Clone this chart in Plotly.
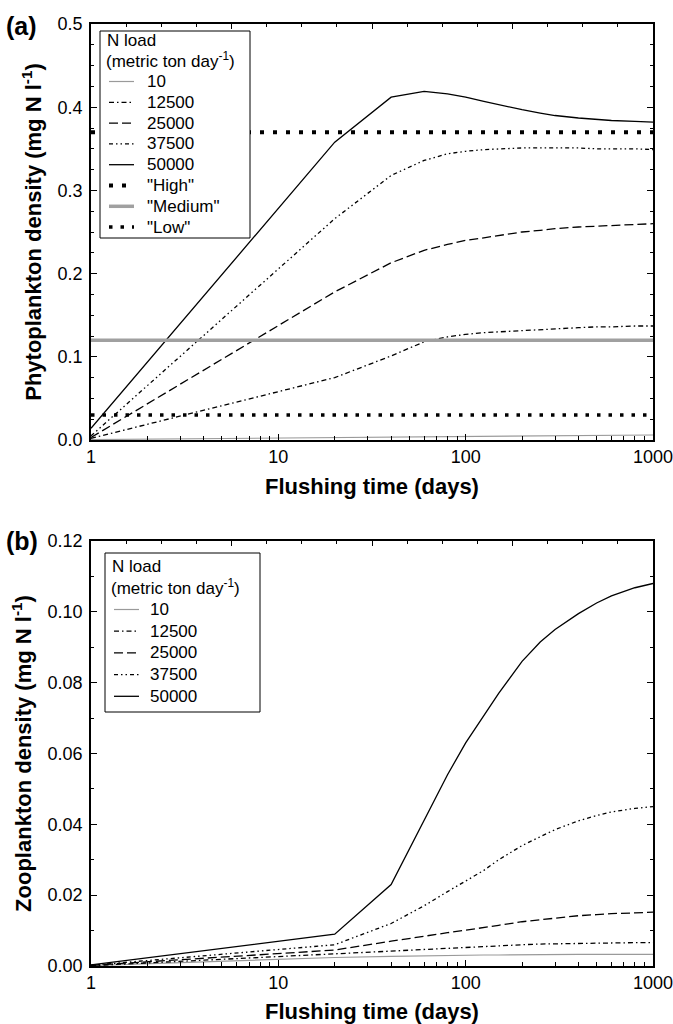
import plotly.graph_objects as go

# Flushing times (days) at which the model output is plotted
flush_days = [1, 20, 40, 60, 80, 100, 125, 150, 200, 250, 300, 400, 500, 600, 800, 1000]

# N load scenarios (metric ton per day)
n_loads = ["10", "12500", "25000", "37500", "50000"]

# Phytoplankton density (mg N l-1) for each N load
phyto_10 = [0.0005, 0.0030, 0.0038, 0.0042, 0.0045, 0.0047, 0.0049, 0.0050,
            0.0052, 0.0054, 0.0055, 0.0057, 0.0058, 0.0059, 0.0060, 0.0060]
phyto_12500 = [0.002, 0.075, 0.101, 0.118, 0.124, 0.127, 0.129, 0.130,
               0.132, 0.133, 0.134, 0.135, 0.136, 0.136, 0.137, 0.137]
phyto_25000 = [0.003, 0.178, 0.213, 0.228, 0.235, 0.240, 0.243, 0.246,
               0.250, 0.252, 0.254, 0.256, 0.257, 0.258, 0.259, 0.260]
phyto_37500 = [0.005, 0.266, 0.318, 0.336, 0.344, 0.347, 0.349, 0.350,
               0.351, 0.351, 0.351, 0.351, 0.350, 0.350, 0.350, 0.349]
phyto_50000 = [0.014, 0.358, 0.412, 0.419, 0.416, 0.412, 0.407, 0.403,
               0.397, 0.393, 0.390, 0.387, 0.385, 0.384, 0.383, 0.382]

# Zooplankton density (mg N l-1) for each N load
zoo_10 = [0.0001, 0.0024, 0.0027, 0.0029, 0.0030, 0.0030, 0.0031, 0.0031,
          0.0032, 0.0032, 0.0032, 0.0033, 0.0033, 0.0033, 0.0033, 0.0033]
zoo_12500 = [0.0001, 0.0035, 0.0043, 0.0048, 0.0051, 0.0053, 0.0055, 0.0057,
             0.0060, 0.0062, 0.0063, 0.0064, 0.0065, 0.0065, 0.0066, 0.0066]
zoo_25000 = [0.0002, 0.0045, 0.0070, 0.0085, 0.0094, 0.0101, 0.0108, 0.0115,
             0.0125, 0.0131, 0.0136, 0.0142, 0.0145, 0.0148, 0.0150, 0.0152]
zoo_37500 = [0.0002, 0.0060, 0.0120, 0.0170, 0.0210, 0.0240, 0.0270, 0.0300,
             0.0340, 0.0365, 0.0385, 0.0410, 0.0425, 0.0435, 0.0445, 0.0450]
zoo_50000 = [0.0003, 0.0090, 0.0230, 0.0410, 0.0540, 0.0630, 0.0705, 0.0770,
             0.0860, 0.0915, 0.0950, 0.0995, 0.1025, 0.1045, 0.1068, 0.1080]

# Phytoplankton reference levels
level_names = ['"High"', '"Medium"', '"Low"']
level_values = [0.37, 0.12, 0.03]
level_x = [1, 1000]

phyto_series = [phyto_10, phyto_12500, phyto_25000, phyto_37500, phyto_50000]
zoo_series = [zoo_10, zoo_12500, zoo_25000, zoo_37500, zoo_50000]

FONT = "Liberation Sans, Arial, sans-serif"

# line style per N load: (color, width, dash)
load_styles = [
    ("#9a9a9a", 1.2, "solid"),
    ("black", 1.3, "5px,3px,1.5px,3px"),
    ("black", 1.3, "9px,4px"),
    ("black", 1.3, "4px,3px,1.5px,3px,1.5px,3px"),
    ("black", 1.3, "solid"),
]
level_styles = [
    ("black", 4.0, "4px,9px"),
    ("#a0a0a0", 3.5, "solid"),
    ("black", 3.5, "3.5px,8px"),
]

# plot area in pixels (left, right, top, bottom of the whole stack)
L, R, T, B = 91, 653, 24, 966


def px_x(px):
    return (px - L) / (R - L)


def px_y(py):
    return (B - py) / (B - T)


fig = go.Figure()

for name, ys, (col, w, dash) in zip(n_loads, phyto_series, load_styles):
    fig.add_trace(go.Scatter(x=flush_days, y=ys, mode="lines", name=name,
                             line=dict(color=col, width=w, dash=dash),
                             xaxis="x", yaxis="y", showlegend=False))
for name, val, (col, w, dash) in zip(level_names, level_values, level_styles):
    fig.add_trace(go.Scatter(x=level_x, y=[val, val], mode="lines", name=name,
                             line=dict(color=col, width=w, dash=dash),
                             xaxis="x", yaxis="y", showlegend=False))
for name, ys, (col, w, dash) in zip(n_loads, zoo_series, load_styles):
    fig.add_trace(go.Scatter(x=flush_days, y=ys, mode="lines", name=name,
                             line=dict(color=col, width=w, dash=dash),
                             xaxis="x2", yaxis="y2", showlegend=False))

# empty carriers so the top tick axes get drawn
for xa, ya in (("x3", "y"), ("x4", "y2")):
    fig.add_trace(go.Scatter(x=[0, 16], y=[None, None], mode="lines",
                             line=dict(width=0), hoverinfo="skip",
                             showlegend=False, xaxis=xa, yaxis=ya))

tick_font = dict(family=FONT, size=18, color="black")
title_font = dict(family=FONT, size=22, color="black", weight="bold")

minor_log = [m * d for d in (1, 10, 100) for m in range(2, 10)]

log_axis = dict(
    type="log", range=[0, 3], automargin=False,
    tickvals=[1, 10, 100, 1000], ticktext=["1", "10", "100", "1000"],
    ticks="inside", ticklen=6, tickwidth=1.2, tickcolor="black",
    minor=dict(tickvals=minor_log, ticks="inside", ticklen=4, tickwidth=1, tickcolor="black"),
    showline=True, linecolor="black", linewidth=1.5,
    showgrid=False, zeroline=False, ticklabeloverflow="allow",
    tickfont=tick_font, title_font=title_font, title_standoff=12,
)

top_axis = dict(
    range=[0, 16], tickmode="linear", tick0=0, dtick=4, automargin=False,
    ticks="inside", ticklen=5, tickwidth=1.2, tickcolor="black",
    minor=dict(dtick=1, ticks="inside", ticklen=3, tickwidth=1, tickcolor="black"),
    showticklabels=False, showline=True, linecolor="black", linewidth=1.5,
    showgrid=False, zeroline=False, side="top",
)

lin_y = dict(
    ticks="inside", ticklen=6, tickwidth=1.2, tickcolor="black", automargin=False,
    showline=True, linecolor="black", linewidth=1.5, mirror="ticks",
    showgrid=False, zeroline=False,
    tickfont=tick_font, title_font=title_font, title_standoff=10,
    ticklabelstandoff=3,
)

fig.update_layout(
    width=673, height=1024,
    margin=dict(l=L, r=673 - R, t=T, b=1024 - B),
    paper_bgcolor="white", plot_bgcolor="white",
    font=dict(family=FONT, color="black"),
    showlegend=False,
    xaxis=dict(log_axis, domain=[0, 1], anchor="y",
               title_text="Flushing time (days)"),
    xaxis2=dict(log_axis, domain=[0, 1], anchor="y2",
                title_text="Flushing time (days)"),
    xaxis3=dict(top_axis, overlaying="x", anchor="y"),
    xaxis4=dict(top_axis, overlaying="x2", anchor="y2"),
    yaxis=dict(lin_y, domain=[px_y(440), 1.0], anchor="x", range=[0, 0.5],
               tickvals=[0, 0.1, 0.2, 0.3, 0.4, 0.5], tickformat=".1f",
               minor=dict(dtick=0.025, ticks="inside", ticklen=3, tickwidth=1, tickcolor="black"),
               title_text="Phytoplankton density (mg N l<sup>-1</sup>)"),
    yaxis2=dict(lin_y, domain=[0, px_y(541)], anchor="x2", range=[0, 0.12],
                tickvals=[0, 0.02, 0.04, 0.06, 0.08, 0.10, 0.12], tickformat=".2f",
                minor=dict(dtick=0.01, ticks="inside", ticklen=3, tickwidth=1, tickcolor="black"),
                title_text="Zooplankton density (mg N l<sup>-1</sup>)"),
)

# legend boxes drawn in the upper-left corner of each panel
LEG_FONT = dict(family=FONT, size=17, color="black")


def add_key(box, title_rows, text_x, sample_x, row_ys, names, styles):
    x0, x1, y0, y1 = box
    fig.add_shape(type="rect", xref="paper", yref="paper",
                  x0=px_x(x0), x1=px_x(x1), y0=px_y(y0), y1=px_y(y1),
                  line=dict(color="black", width=1), fillcolor="white", layer="above")
    for txt, (tx, ty) in title_rows:
        fig.add_annotation(text=txt, xref="paper", yref="paper",
                           x=px_x(tx), y=px_y(ty), xanchor="left", yanchor="middle",
                           showarrow=False, font=LEG_FONT, borderpad=0)
    for name, (col, w, dash), ry in zip(names, styles, row_ys):
        fig.add_shape(type="line", xref="paper", yref="paper",
                      x0=px_x(sample_x[0]), x1=px_x(sample_x[1]), y0=px_y(ry), y1=px_y(ry),
                      line=dict(color=col, width=w, dash=dash), layer="above")
        fig.add_annotation(text=name, xref="paper", yref="paper",
                           x=px_x(text_x), y=px_y(ry), xanchor="left", yanchor="middle",
                           showarrow=False, font=LEG_FONT, borderpad=0)


key_title = ["N load", "(metric ton day<sup>-1</sup>)"]

add_key(box=(100, 250, 31, 238),
        title_rows=list(zip(key_title, [(106, 40), (105, 59.5)])),
        text_x=146, sample_x=(109, 134),
        row_ys=[81.5 + 20.8 * i for i in range(8)],
        names=n_loads + level_names, styles=load_styles + level_styles)

add_key(box=(105, 260, 553, 712),
        title_rows=list(zip(key_title, [(111, 566), (110, 586.5)])),
        text_x=149, sample_x=(114, 139),
        row_ys=[609.5 + 21.7 * i for i in range(5)],
        names=n_loads, styles=load_styles)

# panel letters
for label, ypx in (("(a)", 26), ("(b)", 541)):
    fig.add_annotation(
        text=label, xref="paper", yref="paper",
        x=px_x(4), y=px_y(ypx),
        xanchor="left", yanchor="middle", showarrow=False,
        font=dict(family=FONT, size=25, color="black", weight="bold"),
    )

fig.write_html("out.html")
